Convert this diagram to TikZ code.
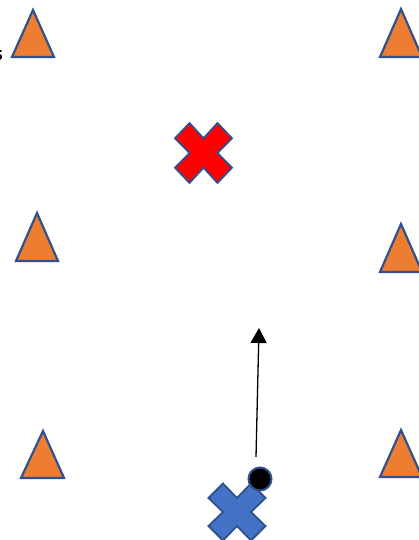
\documentclass[tikz,border=0pt]{standalone}
\usepackage{fontspec}
\setmainfont{Carlito}
\usetikzlibrary{arrows.meta}
\definecolor{triorange}{HTML}{ED7D31}
\definecolor{outlineblue}{HTML}{2F528F}
\definecolor{fillblue}{HTML}{4472C4}
\definecolor{xred}{HTML}{FF0000}
\tikzset{
  cone/.style={fill=triorange, draw=outlineblue, line width=2.2pt, line join=miter},
  crossmark/.style={draw=outlineblue, line width=1.8pt, line join=miter},
  ballmark/.style={circle, fill=black, draw=outlineblue, line width=2pt, minimum size=23pt, inner sep=0pt},
  runarrow/.style={line width=1.3pt, -{Triangle[width=16pt,length=15pt]}},
  pics/xmark/.style={code={
    \path[crossmark, #1] (0,-14) -- (14,-28.5) -- (28.5,-14) -- (14,0) -- (28.5,14) -- (14,28.5)
      -- (0,14) -- (-14,28.5) -- (-28.5,14) -- (-14,0) -- (-28.5,-14) -- (-14,-28.5) -- cycle;
  }}
}
\begin{document}
\begin{tikzpicture}[x=1pt, y=-1pt]
\useasboundingbox (0,0) rectangle (419,540);
\clip (0,0) rectangle (419,540);
\fill[white] (0,0) rectangle (419,540);
% partial label at left edge
\node[anchor=base east, inner sep=0pt, font=\bfseries\fontsize{21}{21}\selectfont] (lbl) at (3,61) {s};
% cones
\path[cone] (33,10) -- (54,57) -- (12,57) -- cycle;
\path[cone] (401,9) -- (422,57) -- (380,57) -- cycle;
\path[cone] (37,213) -- (58,261) -- (16,261) -- cycle;
\path[cone] (401,224) -- (422,272) -- (380,272) -- cycle;
\path[cone] (43,431) -- (64,478) -- (21,478) -- cycle;
\path[cone] (401,430) -- (422,477) -- (380,477) -- cycle;
% crosses
\pic (redx) [yscale=1.05] at (203.5,153) {xmark={fill=xred}};
\pic (bluex) at (237,512) {xmark={fill=fillblue}};
% ball
\node[ballmark] (ball) at (260,479) {};
% arrow
\coordinate (astart) at (256,457);
\coordinate (aend) at (259,328);
\draw[runarrow] (astart) -- (aend);
\end{tikzpicture}
\end{document}
